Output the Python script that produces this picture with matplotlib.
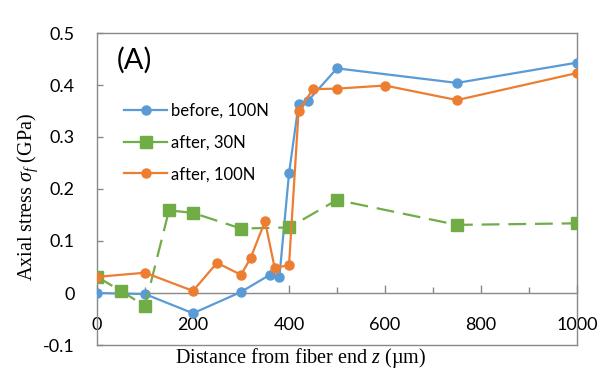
import matplotlib
matplotlib.use("Agg")
import matplotlib.pyplot as plt
from matplotlib.ticker import MultipleLocator
from matplotlib.lines import Line2D

plt.rcParams['mathtext.fontset'] = 'custom'
plt.rcParams['mathtext.it'] = 'Liberation Serif:italic'
plt.rcParams['mathtext.rm'] = 'Liberation Serif'

# Data
z_before = [0, 100, 200, 300, 360, 380, 400, 420, 440, 500, 750, 1000]
s_before = [0.0, -0.002, -0.039, 0.002, 0.035, 0.031, 0.230, 0.363, 0.370, 0.432, 0.404, 0.443]

z_after30 = [0, 50, 100, 150, 200, 300, 400, 500, 750, 1000]
s_after30 = [0.031, 0.004, -0.025, 0.159, 0.154, 0.124, 0.126, 0.179, 0.131, 0.134]

z_after100 = [0, 100, 200, 250, 300, 320, 350, 370, 400, 420, 450, 500, 600, 750, 1000]
s_after100 = [0.031, 0.039, 0.004, 0.058, 0.035, 0.067, 0.138, 0.049, 0.053, 0.350, 0.392, 0.393, 0.399, 0.371, 0.423]

labels = ["before, 100N", "after, 30N", "after, 100N"]
xticks = [0, 200, 400, 600, 800, 1000]
yticks = [-0.1, 0, 0.1, 0.2, 0.3, 0.4, 0.5]

BLUE = "#5B9BD5"
GREEN = "#70AD47"
ORANGE = "#ED7D31"
GRAY = "#898989"

fig = plt.figure(figsize=(6.02, 3.76), dpi=100)
ax = fig.add_axes([97/602, 1-345/376, 480/602, 312/376])

ax.plot(z_before, s_before, color=BLUE, lw=1.6, marker='o', ms=6.5, zorder=3)
ax.plot(z_after30, s_after30, color=GREEN, lw=1.6, marker='s', ms=9, dashes=(8, 4), zorder=4)
ax.plot(z_after100, s_after100, color=ORANGE, lw=1.6, marker='o', ms=6.5, zorder=5)

ax.set_xlim(0, 1000)
ax.set_ylim(-0.1, 0.5)
ax.set_xticks(xticks)
ax.set_xticklabels([str(v) for v in xticks])
ax.set_yticks(yticks)
ax.set_yticklabels([("%g" % v) if v != 0 else "0" for v in yticks])
ax.xaxis.set_minor_locator(MultipleLocator(100))

for s in ax.spines.values():
    s.set_color(GRAY)
    s.set_linewidth(1.0)
ax.spines['bottom'].set_position(('data', 0))
ax.axhline(-0.1, color=GRAY, lw=1.0, clip_on=False, zorder=1)

tickfont = "Lato"
ax.tick_params(axis='x', which='major', direction='in', length=6, width=1, color=GRAY, pad=17,
               labelsize=13)
ax.tick_params(axis='x', which='minor', direction='in', length=4, width=1, color=GRAY)
ax.tick_params(axis='y', which='major', direction='in', length=4, width=1, color=GRAY, pad=16,
               labelsize=13)
for lab in ax.get_xticklabels() + ax.get_yticklabels():
    lab.set_fontfamily(tickfont)

ax.set_xlabel("Distance from fiber end $z$ (µm)", fontfamily="Liberation Serif", fontsize=14.5)
ax.xaxis.set_label_coords(204/480, -13/312)
ax.xaxis.label.set_va('center')
ax.set_ylabel(r"Axial stress $\sigma_f$ (GPa)", fontfamily="Liberation Serif", fontsize=14.5)
ax.yaxis.set_label_coords(-69/480, 148/312)
ax.yaxis.label.set_va('center')

ax.text(20/480, 1-14/312, "(A)", transform=ax.transAxes, fontfamily=tickfont, fontsize=21,
        va='top', ha='left')

handles = [
    Line2D([], [], color=BLUE, lw=1.6, marker='o', ms=6.5),
    Line2D([], [], color=GREEN, lw=1.6, marker='s', ms=9),
    Line2D([], [], color=ORANGE, lw=1.6, marker='o', ms=6.5),
]
leg = ax.legend(handles, labels, loc='upper left', bbox_to_anchor=(0.025, 0.825), frameon=False,
                prop={'family': tickfont, 'size': 12}, handlelength=2.6, handletextpad=0.2,
                labelspacing=0.95)

fig.savefig("out.png", dpi=100)
